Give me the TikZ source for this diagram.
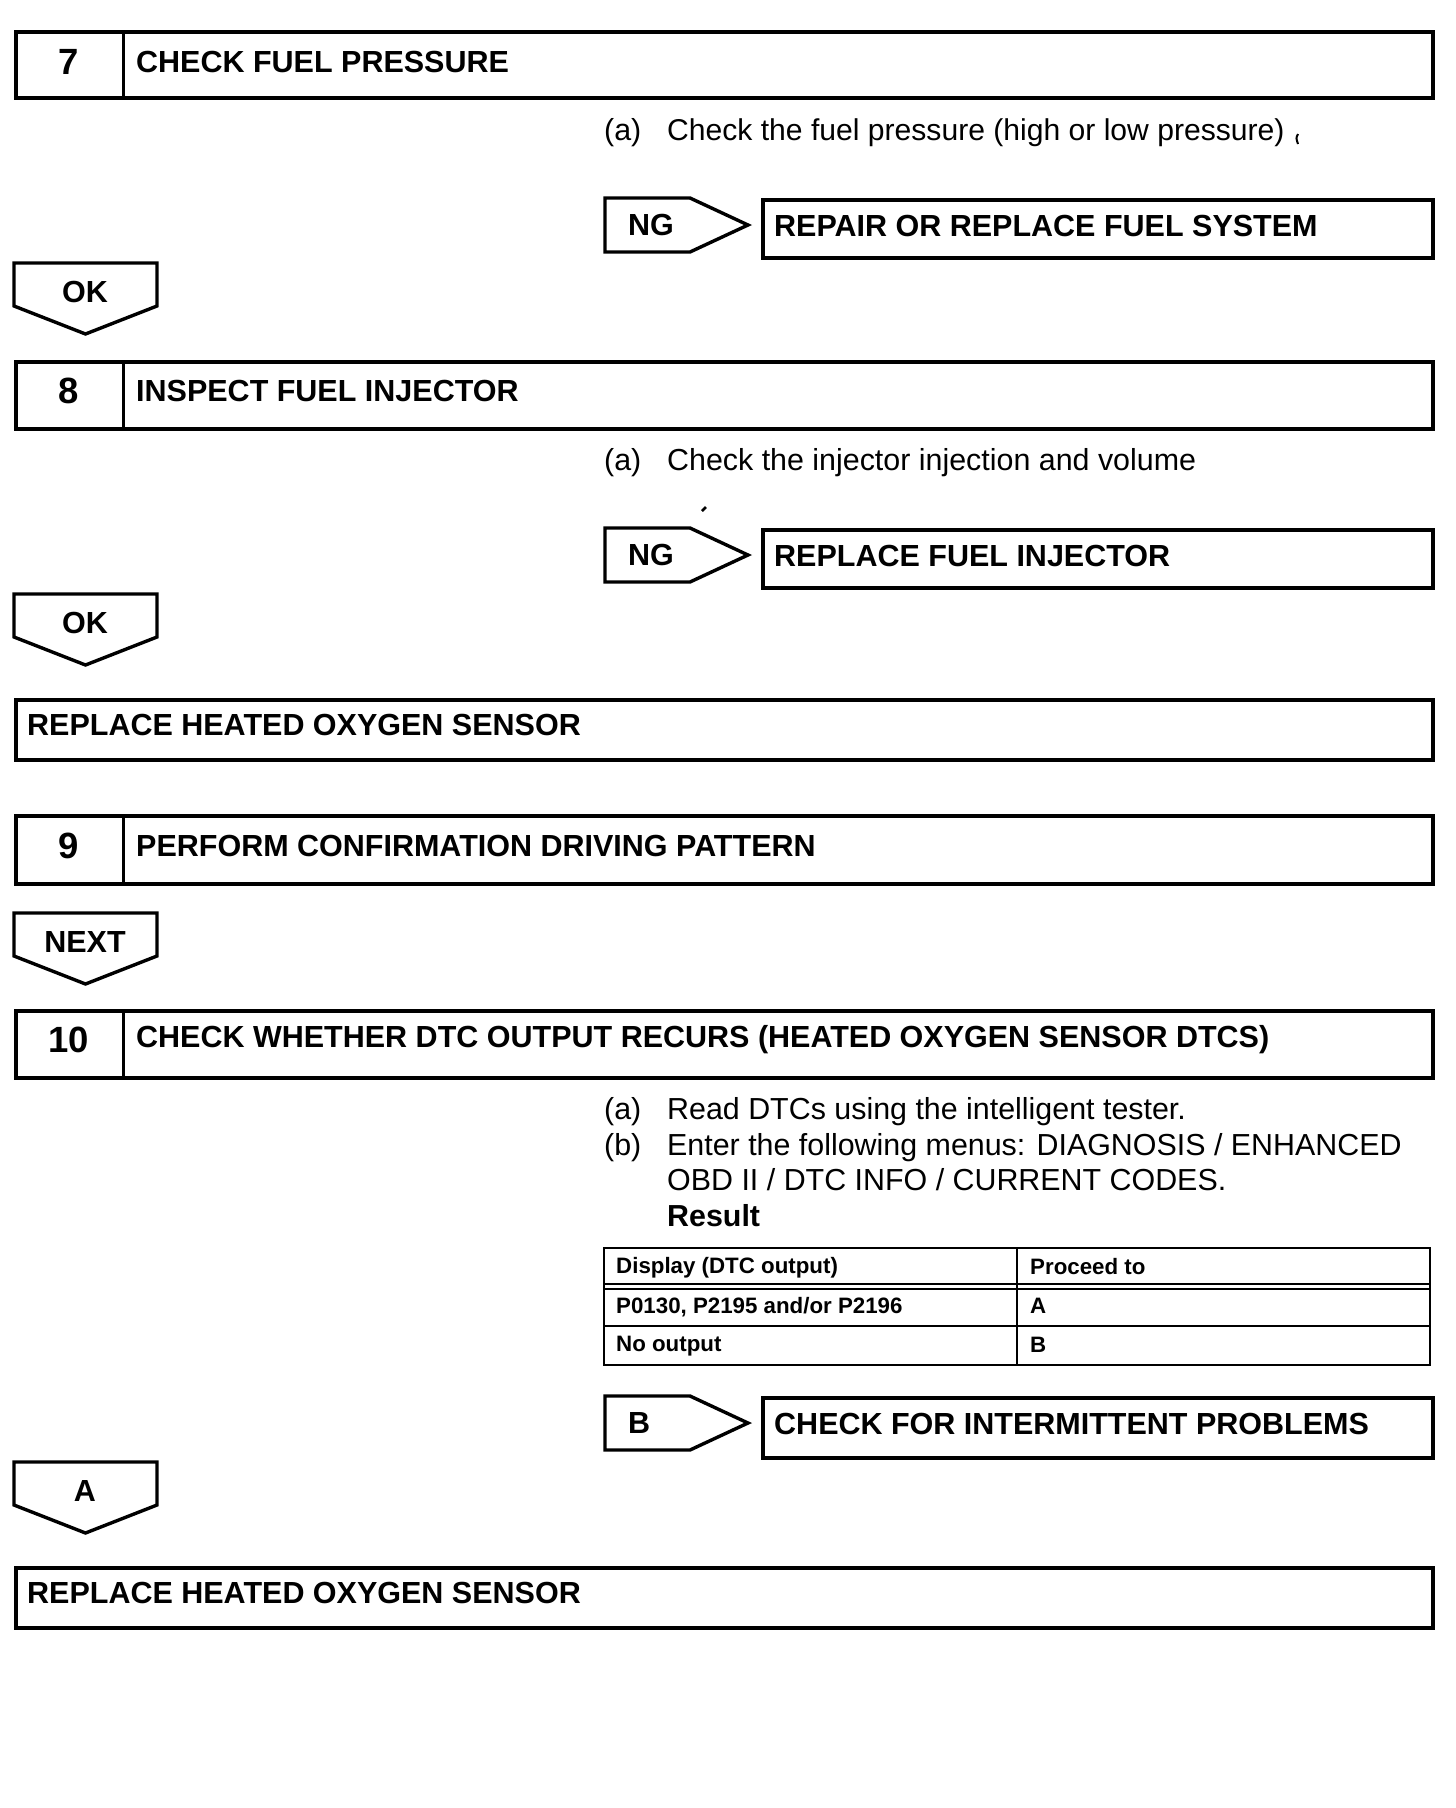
\documentclass[tikz,border=0pt]{standalone}
\usepackage{fontspec}
\setmainfont{Liberation Sans}
\begin{document}
\begin{tikzpicture}[x=1pt,y=-1pt,
  box/.style={draw, line width=4.2pt, rectangle, inner sep=0pt, anchor=north west},
  divider/.style={line width=3pt},
  tabshape/.style={draw, line width=3.4pt, line join=miter},
  title/.style={font=\fontsize{30.5}{34}\selectfont\bfseries, anchor=west, inner sep=0pt},
  num/.style={font=\fontsize{36.5}{40}\selectfont\bfseries, anchor=center, inner sep=0pt},
  body/.style={font=\fontsize{30.4}{36}\selectfont, anchor=west, inner sep=0pt},
  tabtext/.style={font=\fontsize{30.5}{34}\selectfont\bfseries, inner sep=0pt},
  cell/.style={font=\fontsize{22.3}{26}\selectfont\bfseries, anchor=west, inner sep=0pt},
  tbl/.style={line width=2.5pt}]
\useasboundingbox (0,0) rectangle (1456,1808);

% ---------- Step 7 ----------
\node[box, minimum width=1417pt, minimum height=66pt] (b7) at (14,30) {};
\draw[divider] (123,30) -- (123,96);
\node[num] (n7) at (69,62) {7};
\node[title] (t7) at (136,62) {CHECK FUEL PRESSURE};
\node[body] (a7l) at (604,132.5) {(a)};
\node[body, font=\fontsize{30.1}{36}\selectfont] (a7) at (667,132.5) {Check the fuel pressure (high or low pressure)};
\draw[line width=2pt] (1298,134) .. controls (1296,138) .. (1298,144);

% NG tab 1
\draw[tabshape] (605,198) -- (690,198) -- (748,225) -- (690,252) -- (605,252) -- cycle;
\node[tabtext, anchor=west] (ng1) at (628,225) {NG};
\node[box, minimum width=670pt, minimum height=58pt] (r7) at (761,198) {};
\node[title] (r7t) at (774,226) {REPAIR OR REPLACE FUEL SYSTEM};

% OK tab 1
\draw[tabshape] (14,263) -- (157,263) -- (157,306) -- (85.5,334) -- (14,306) -- cycle;
\node[tabtext] (ok1) at (85,292) {OK};

% ---------- Step 8 ----------
\node[box, minimum width=1417pt, minimum height=67pt] (b8) at (14,360) {};
\draw[divider] (123,360) -- (123,427);
\node[num] (n8) at (69,391) {8};
\node[title] (t8) at (136,391) {INSPECT FUEL INJECTOR};
\node[body] (a8l) at (604,462.5) {(a)};
\node[body] (a8) at (667,462.5) {Check the injector injection and volume};
\draw[line width=2.5pt] (702,511) -- (706,507);

% NG tab 2
\draw[tabshape] (605,528) -- (690,528) -- (748,555) -- (690,582) -- (605,582) -- cycle;
\node[tabtext, anchor=west] (ng2) at (628,555) {NG};
\node[box, minimum width=670pt, minimum height=58pt] (r8) at (761,528) {};
\node[title] (r8t) at (774,556) {REPLACE FUEL INJECTOR};

% OK tab 2
\draw[tabshape] (14,594) -- (157,594) -- (157,637) -- (85.5,665) -- (14,637) -- cycle;
\node[tabtext] (ok2) at (85,623) {OK};

% Replace box 1
\node[box, minimum width=1417pt, minimum height=60pt] (rep1) at (14,698) {};
\node[title] (rep1t) at (27,725) {REPLACE HEATED OXYGEN SENSOR};

% ---------- Step 9 ----------
\node[box, minimum width=1417pt, minimum height=68pt] (b9) at (14,814) {};
\draw[divider] (123,814) -- (123,882);
\node[num] (n9) at (69,846) {9};
\node[title] (t9) at (136,846) {PERFORM CONFIRMATION DRIVING PATTERN};

% NEXT tab
\draw[tabshape] (14,913) -- (157,913) -- (157,956) -- (85.5,984) -- (14,956) -- cycle;
\node[tabtext] (next) at (85,942) {NEXT};

% ---------- Step 10 ----------
\node[box, minimum width=1417pt, minimum height=67pt] (b10) at (14,1009) {};
\draw[divider] (123,1009) -- (123,1076);
\node[num] (n10) at (69,1040) {10};
\node[title] (t10) at (136,1040) {CHECK WHETHER DTC OUTPUT RECURS (HEATED OXYGEN SENSOR DTCS)};

\node[body] (a10l) at (604,1111.5) {(a)};
\node[body] (a10) at (667,1111.5) {Read DTCs using the intelligent tester.};
\node[body] (b10l) at (604,1147.5) {(b)};
\node[body] (b10a) at (667,1147.5) {Enter the following menus: DIAGNOSIS / ENHANCED};
\node[body] (b10b) at (667,1180) {OBD II / DTC INFO / CURRENT CODES.};
\node[body, font=\fontsize{30.4}{36}\selectfont\bfseries] (res) at (667,1216) {Result};

% Table
\draw[tbl] (604,1248) rectangle (1430,1365);
\draw[tbl] (604,1284) -- (1430,1284);
\draw[tbl] (604,1289) -- (1430,1289);
\draw[tbl] (604,1326) -- (1430,1326);
\draw[tbl] (1017,1248) -- (1017,1365);
\node[cell] (h1) at (616,1268) {Display (DTC output)};
\node[cell] (h2) at (1030,1267) {Proceed to};
\node[cell] (c11) at (616,1307.5) {P0130, P2195 and/or P2196};
\node[cell] (c12) at (1030,1306) {A};
\node[cell] (c21) at (616,1346.5) {No output};
\node[cell] (c22) at (1030,1345) {B};

% B tab
\draw[tabshape] (605,1396) -- (690,1396) -- (748,1423) -- (690,1450) -- (605,1450) -- cycle;
\node[tabtext, anchor=west] (btab) at (628,1423) {B};
\node[box, minimum width=670pt, minimum height=60pt] (r10) at (761,1396) {};
\node[title] (r10t) at (774,1424) {CHECK FOR INTERMITTENT PROBLEMS};

% A tab
\draw[tabshape] (14,1462) -- (157,1462) -- (157,1505) -- (85.5,1533) -- (14,1505) -- cycle;
\node[tabtext] (atab) at (85,1491) {A};

% Replace box 2
\node[box, minimum width=1417pt, minimum height=60pt] (rep2) at (14,1566) {};
\node[title] (rep2t) at (27,1593) {REPLACE HEATED OXYGEN SENSOR};
\end{tikzpicture}
\end{document}
